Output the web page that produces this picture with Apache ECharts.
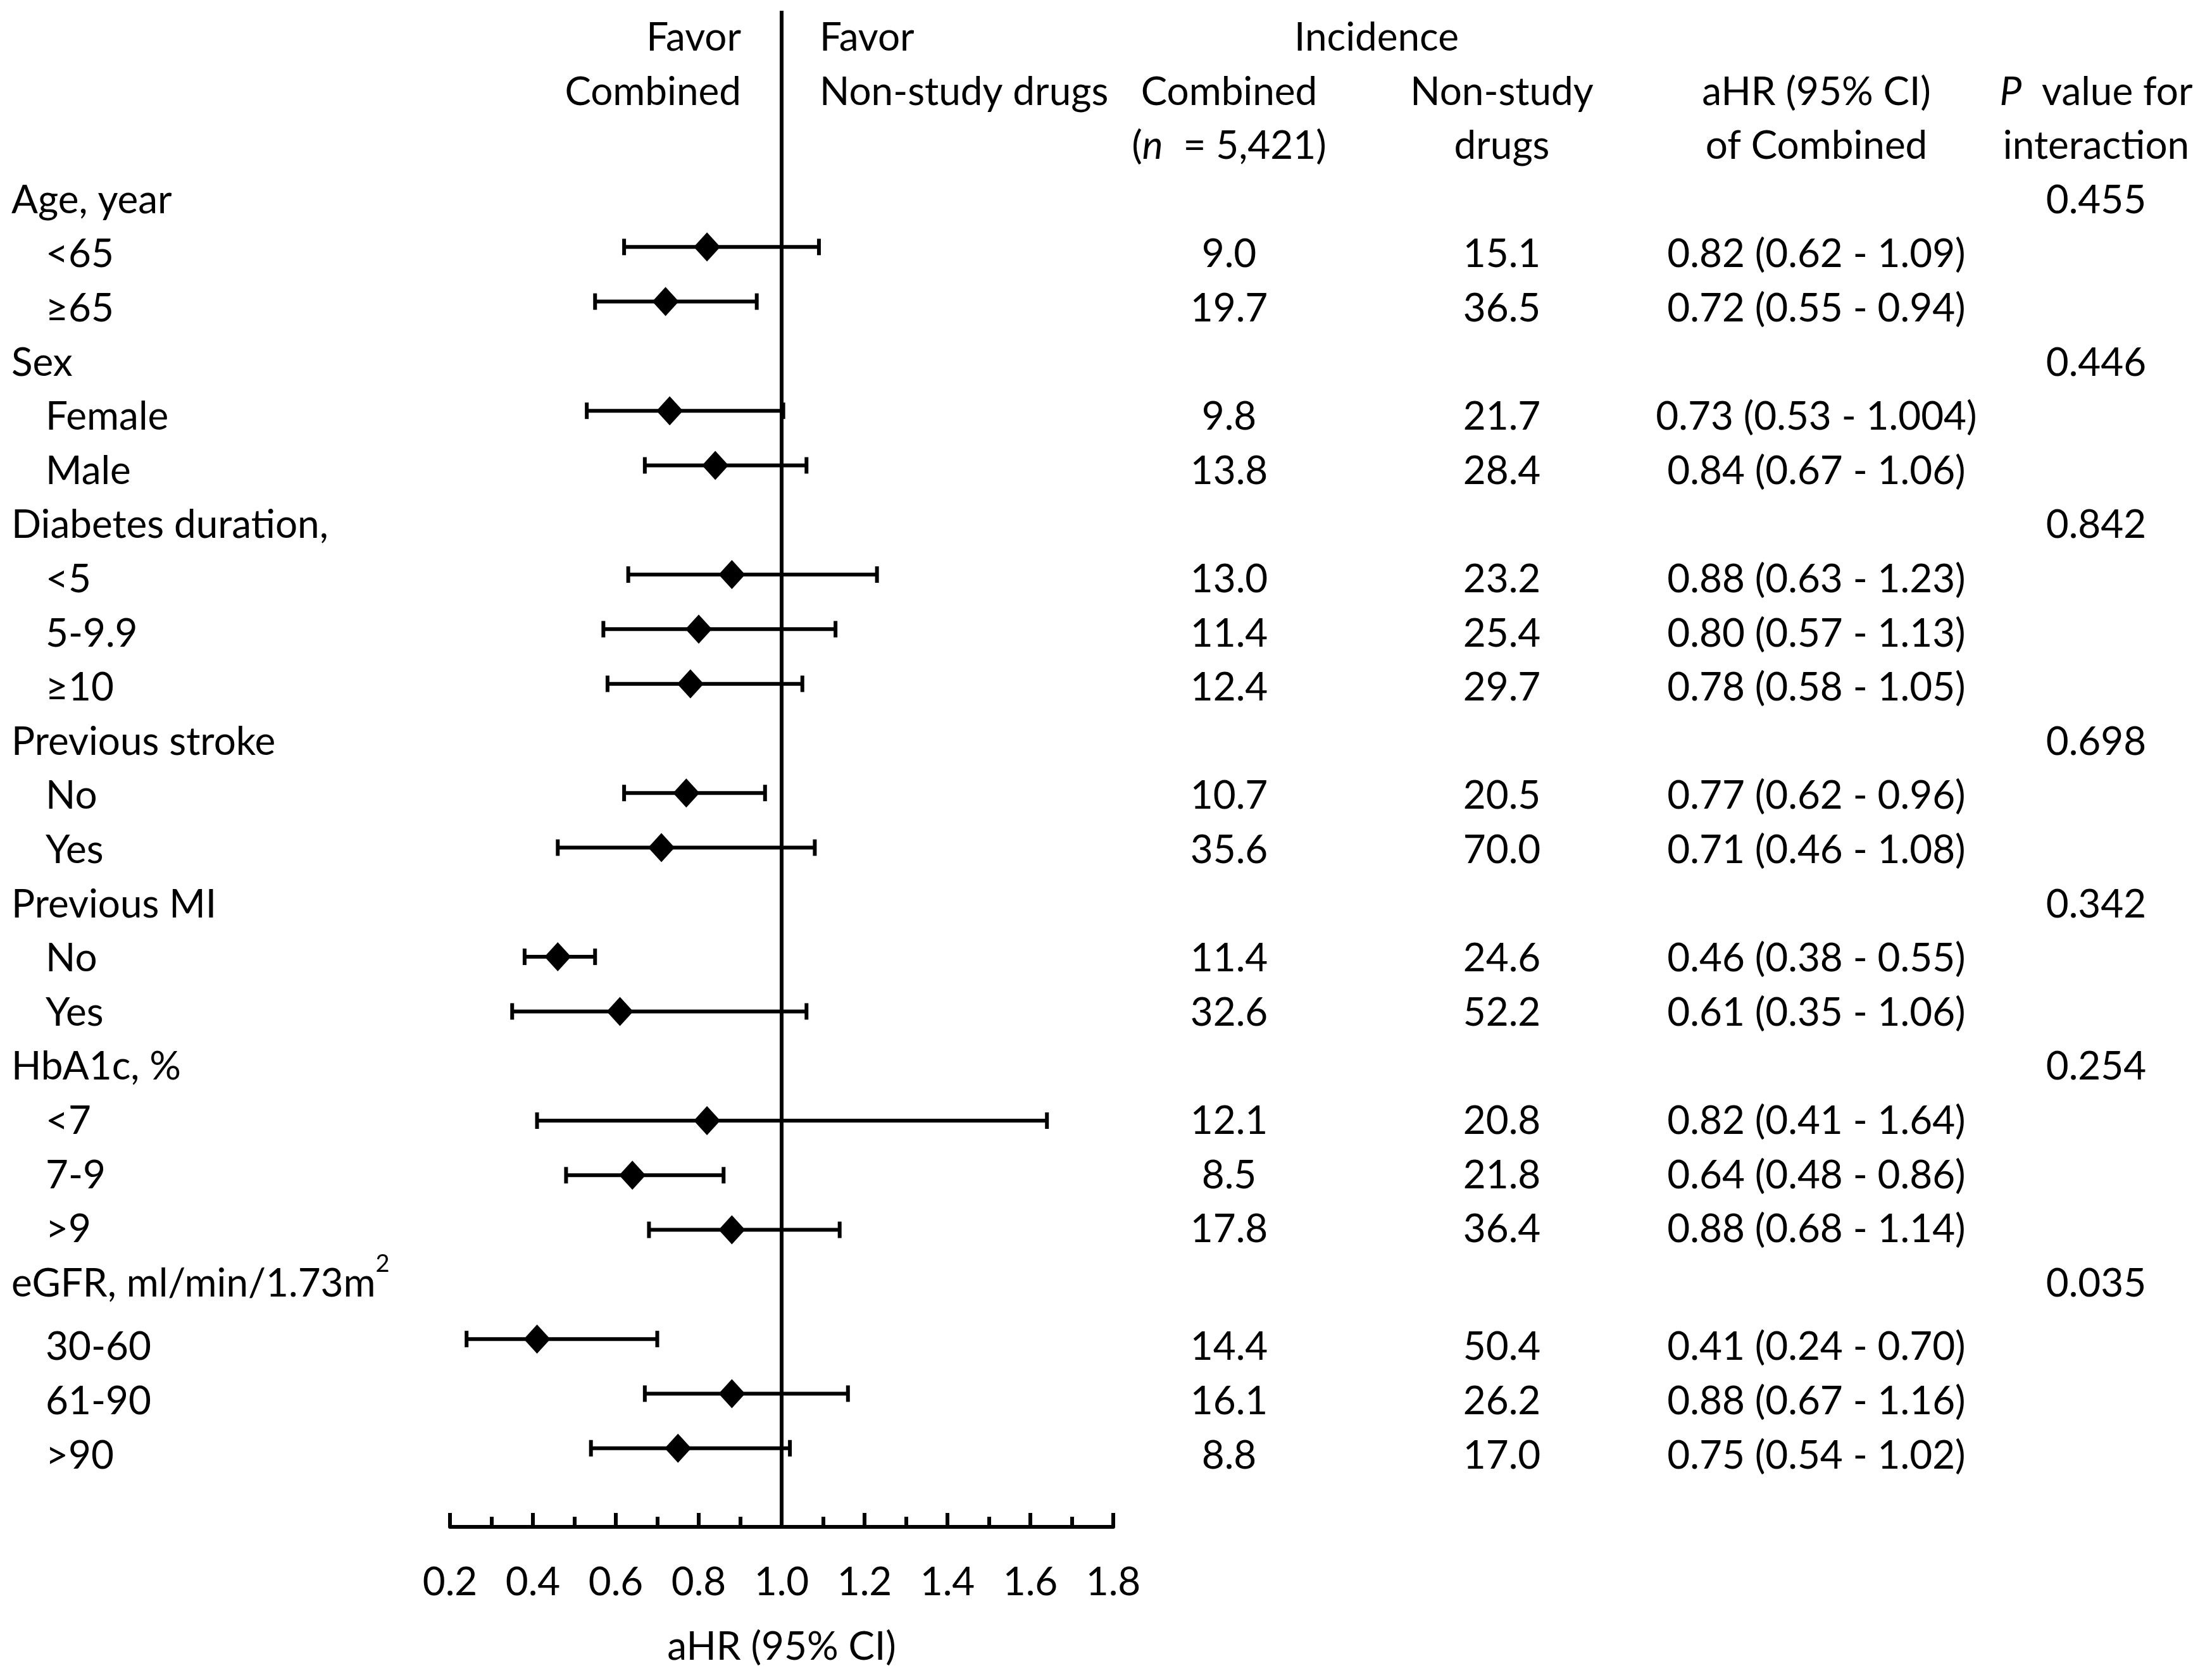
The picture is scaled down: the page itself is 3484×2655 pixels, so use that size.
<!DOCTYPE html>
<html>
<head>
<meta charset="utf-8">
<title>Subgroup forest plot</title>
<script src="https://cdn.jsdelivr.net/npm/echarts@6/dist/echarts.min.js"></script>
<style>
  html, body { margin: 0; padding: 0; background: #fff; }
  #chart { width: 100vw; height: 100vh; }
</style>
</head>
<body>
<div id="chart"></div>
<script>
// groups and their p value for interaction
const groupLabels = ['Age, year', 'Sex', 'Diabetes duration,', 'Previous stroke', 'Previous MI', 'HbA1c, %', '{b|eGFR, ml/min/1.73m}{sup|2}'];
const groupP = ['0.455', '0.446', '0.842', '0.698', '0.342', '0.254', '0.035'];

// subgroups (which group each one belongs to)
const subgroupLabels = ['<65', '≥65', 'Female', 'Male', '<5', '5-9.9', '≥10', 'No', 'Yes', 'No', 'Yes', '<7', '7-9', '>9', '30-60', '61-90', '>90'];
const subgroupGroup = [0, 0, 1, 1, 2, 2, 2, 3, 3, 4, 4, 5, 5, 5, 6, 6, 6];

// aHR and 95% CI of Combined
const hrValues = [0.82, 0.72, 0.73, 0.84, 0.88, 0.80, 0.78, 0.77, 0.71, 0.46, 0.61, 0.82, 0.64, 0.88, 0.41, 0.88, 0.75];
const ciLower = [0.62, 0.55, 0.53, 0.67, 0.63, 0.57, 0.58, 0.62, 0.46, 0.38, 0.35, 0.41, 0.48, 0.68, 0.24, 0.67, 0.54];
const ciUpper = [1.09, 0.94, 1.004, 1.06, 1.23, 1.13, 1.05, 0.96, 1.08, 0.55, 1.06, 1.64, 0.86, 1.14, 0.70, 1.16, 1.02];

// incidence
const incidenceCombined = [9.0, 19.7, 9.8, 13.8, 13.0, 11.4, 12.4, 10.7, 35.6, 11.4, 32.6, 12.1, 8.5, 17.8, 14.4, 16.1, 8.8];
const incidenceNonStudy = [15.1, 36.5, 21.7, 28.4, 23.2, 25.4, 29.7, 20.5, 70.0, 24.6, 52.2, 20.8, 21.8, 36.4, 50.4, 26.2, 17.0];

// x axis
const axisMin = 0.2;
const axisMax = 1.8;
const axisStep = 0.2;

const fontFamily = 'Lato, "Open Sans", sans-serif';
const fs = 62;

// row index for every line of the table
const groupRow = [];
const subRow = [];
let r = 0;
groupLabels.forEach(function (g, gi) {
  groupRow.push(r++);
  subgroupGroup.forEach(function (sg, si) {
    if (sg === gi) subRow[si] = r++;
  });
});

// y range shared by plot and table (rows go downward)
const yMin = -3.326;
const yMax = 24.44;

// the superscript line makes the table rows below it sit a bit lower
const supRow = groupRow[groupRow.length - 1];
const supGap = 0.175;
function textRow(row) {
  return row > supRow ? row + supGap : row;
}

function fmtHR(v) {
  return Math.abs(v * 100 - Math.round(v * 100)) < 1e-6 ? v.toFixed(2) : String(v);
}

const rich = {
  i: { fontStyle: 'italic', fontSize: fs, fontFamily: fontFamily, color: '#000' },
  b: { fontSize: fs, fontFamily: fontFamily, color: '#000', lineHeight: 100 },
  sup: { fontSize: 38, fontFamily: fontFamily, color: '#000', lineHeight: 38, verticalAlign: 'top' }
};

// one column of table text, x is the column anchor on the page
function textSeries(items, x, align) {
  return {
    type: 'custom',
    xAxisIndex: 1,
    yAxisIndex: 1,
    silent: true,
    z: 5,
    data: items.map(function (it) { return [x, textRow(it[0])]; }),
    renderItem: function (params, api) {
      const pt = api.coord([api.value(0), api.value(1)]);
      return {
        type: 'text',
        style: {
          text: items[params.dataIndex][1],
          x: pt[0],
          y: pt[1],
          align: align,
          verticalAlign: 'middle',
          fill: '#000',
          fontSize: fs,
          fontFamily: fontFamily,
          rich: rich
        }
      };
    }
  };
}

const labelItems = groupLabels.map(function (g, i) { return [groupRow[i], g]; });
const subLabelItems = subgroupLabels.map(function (s, i) { return [subRow[i], s]; });
const combItems = [[-2, 'Combined'], [-1, '({i|n}  = 5,421)']].concat(
  incidenceCombined.map(function (v, i) { return [subRow[i], v.toFixed(1)]; }));
const nonItems = [[-2, 'Non-study'], [-1, 'drugs']].concat(
  incidenceNonStudy.map(function (v, i) { return [subRow[i], v.toFixed(1)]; }));
const hrItems = [[-2, 'aHR (95% CI)'], [-1, 'of Combined']].concat(
  hrValues.map(function (v, i) {
    return [subRow[i], fmtHR(v) + ' (' + fmtHR(ciLower[i]) + ' - ' + fmtHR(ciUpper[i]) + ')'];
  }));
const pItems = [[-2, '{i|P}  value for'], [-1, 'interaction']].concat(
  groupP.map(function (p, i) { return [groupRow[i], p]; }));

const chart = echarts.init(document.getElementById('chart'));
const W = chart.getWidth();

const option = {
  backgroundColor: '#fff',
  animation: false,
  grid: [
    { left: 711, width: 1048, top: 17, bottom: 242 },
    { left: 0, right: 0, top: 32, bottom: 246 }
  ],
  xAxis: [
    {
      type: 'value',
      gridIndex: 0,
      min: axisMin,
      max: axisMax,
      interval: axisStep,
      axisLine: { show: true, onZero: false, lineStyle: { color: '#000', width: 6 } },
      axisTick: { show: true, inside: true, length: 22, lineStyle: { color: '#000', width: 6 } },
      minorTick: { show: true, splitNumber: 2, length: 16, lineStyle: { color: '#000', width: 6 } },
      splitLine: { show: false },
      minorSplitLine: { show: false },
      axisLabel: {
        color: '#000',
        fontSize: fs,
        fontFamily: fontFamily,
        margin: 57,
        formatter: function (v) { return v.toFixed(1); }
      },
      name: 'aHR (95% CI)',
      nameLocation: 'middle',
      nameGap: 159,
      nameTextStyle: { color: '#000', fontSize: fs, fontFamily: fontFamily }
    },
    { type: 'value', gridIndex: 1, min: 0, max: W, show: false }
  ],
  yAxis: [
    { type: 'value', gridIndex: 0, min: yMin, max: yMax, inverse: true, show: false },
    { type: 'value', gridIndex: 1, min: yMin, max: yMax, inverse: true, show: false }
  ],
  series: [
    {
      // confidence intervals
      type: 'custom',
      xAxisIndex: 0,
      yAxisIndex: 0,
      silent: true,
      z: 2,
      data: subRow.map(function (row, i) { return [ciLower[i], ciUpper[i], row]; }),
      encode: { x: [0, 1], y: 2 },
      renderItem: function (params, api) {
        const y = api.value(2);
        const a = api.coord([api.value(0), y]);
        const b = api.coord([api.value(1), y]);
        const h = 13;
        return {
          type: 'group',
          children: [
            { type: 'line', shape: { x1: a[0], y1: a[1], x2: b[0], y2: b[1] }, style: { stroke: '#000', lineWidth: 6 } },
            { type: 'line', shape: { x1: a[0], y1: a[1] - h, x2: a[0], y2: a[1] + h }, style: { stroke: '#000', lineWidth: 6 } },
            { type: 'line', shape: { x1: b[0], y1: b[1] - h, x2: b[0], y2: b[1] + h }, style: { stroke: '#000', lineWidth: 6 } }
          ]
        };
      }
    },
    {
      // point estimates
      type: 'scatter',
      xAxisIndex: 0,
      yAxisIndex: 0,
      silent: true,
      z: 3,
      symbol: 'diamond',
      symbolSize: [42, 46],
      itemStyle: { color: '#000', opacity: 1 },
      data: subRow.map(function (row, i) { return [hrValues[i], row]; }),
      markLine: {
        silent: true,
        symbol: 'none',
        label: { show: false },
        lineStyle: { color: '#000', width: 6, type: 'solid' },
        emphasis: { disabled: true },
        data: [{ xAxis: 1 }]
      }
    },
    textSeries(labelItems, 18, 'left'),
    textSeries(subLabelItems, 72, 'left'),
    textSeries([[-3, 'Favor'], [-2, 'Combined']], 1171, 'right'),
    textSeries([[-3, 'Favor'], [-2, 'Non-study drugs']], 1295, 'left'),
    textSeries([[-3, 'Incidence']], 2175, 'center'),
    textSeries(combItems, 1942, 'center'),
    textSeries(nonItems, 2373, 'center'),
    textSeries(hrItems, 2870, 'center'),
    textSeries(pItems, 3312, 'center')
  ]
};

chart.setOption(option);
</script>
</body>
</html>
